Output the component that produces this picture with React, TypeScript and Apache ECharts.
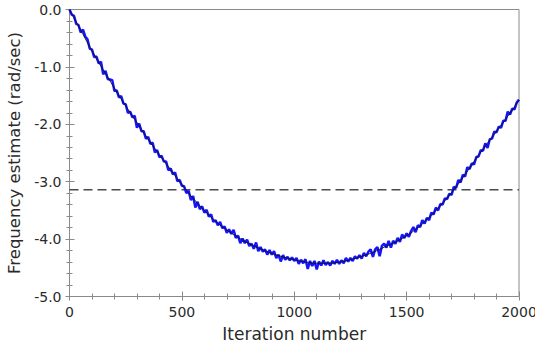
import React, { useEffect, useRef } from "react";
import * as echarts from "echarts";

// Iteration index of the noisy estimate (step 10)
const noisyStep = 10;
const noisyEstimate = [
  0.00, -0.09, -0.11, -0.25, -0.27, -0.40, -0.35, -0.47, -0.52, -0.68,
  -0.70, -0.83, -0.82, -0.94, -0.91, -1.13, -1.07, -1.21, -1.22, -1.23,
  -1.42, -1.41, -1.53, -1.51, -1.64, -1.65, -1.80, -1.78, -1.88, -1.85,
  -2.06, -1.99, -2.12, -2.12, -2.25, -2.22, -2.34, -2.32, -2.49, -2.45,
  -2.57, -2.55, -2.65, -2.65, -2.80, -2.77, -2.87, -2.84, -2.99, -2.97,
  -3.07, -3.08, -3.20, -3.16, -3.32, -3.25, -3.45, -3.35, -3.48, -3.43,
  -3.54, -3.49, -3.61, -3.57, -3.70, -3.67, -3.76, -3.70, -3.81, -3.78,
  -3.89, -3.83, -3.91, -3.84, -3.98, -3.94, -4.07, -3.99, -4.07, -4.01,
  -4.12, -4.08, -4.17, -4.06, -4.21, -4.14, -4.22, -4.18, -4.27, -4.19,
  -4.27, -4.21, -4.33, -4.27, -4.39, -4.28, -4.36, -4.31, -4.37, -4.32,
  -4.38, -4.33, -4.43, -4.36, -4.42, -4.35, -4.52, -4.38, -4.47, -4.38,
  -4.53, -4.39, -4.46, -4.37, -4.45, -4.40, -4.46, -4.38, -4.43, -4.36,
  -4.43, -4.37, -4.42, -4.33, -4.39, -4.33, -4.38, -4.30, -4.34, -4.28,
  -4.34, -4.24, -4.30, -4.22, -4.18, -4.31, -4.18, -4.14, -4.30, -4.12,
  -4.08, -4.15, -4.03, -4.15, -4.03, -4.08, -3.98, -4.05, -3.92, -3.98,
  -3.90, -3.96, -3.86, -3.79, -3.88, -3.76, -3.79, -3.67, -3.73, -3.63,
  -3.67, -3.54, -3.57, -3.45, -3.50, -3.39, -3.40, -3.29, -3.30, -3.21,
  -3.23, -3.09, -3.11, -2.97, -3.01, -2.88, -2.91, -2.75, -2.78, -2.68,
  -2.70, -2.57, -2.56, -2.45, -2.46, -2.33, -2.41, -2.26, -2.25, -2.13,
  -2.14, -2.04, -2.06, -1.94, -1.94, -1.78, -1.83, -1.73, -1.74, -1.62,
  -1.57,
];

// Smooth (true) frequency curve, step 50
const trueStep = 50;
const trueFrequency = [
  0.00, -0.36, -0.72, -1.05, -1.37, -1.68, -1.97, -2.26, -2.53, -2.79,
  -3.05, -3.29, -3.50, -3.69, -3.84, -3.97, -4.08, -4.17, -4.25, -4.31,
  -4.36, -4.40, -4.42, -4.42, -4.40, -4.36, -4.30, -4.23, -4.14, -4.05,
  -3.94, -3.80, -3.62, -3.42, -3.19, -2.93, -2.65, -2.38, -2.12, -1.86,
  -1.58,
];

const referenceLevel = -3.14159; // -pi
const xRange = [0, 2000];
const yRange = [-5, 0];

const FONT = "DejaVu Sans";
const AXIS_COLOR = "#8a8a8a";
const LABEL_COLOR = "#2a2a2a";

export default function App() {
  const ref = useRef<HTMLDivElement>(null);
  useEffect(() => {
    if (!ref.current) return;
    const chart = echarts.init(ref.current, null, { renderer: "svg" });
    const noisyData = noisyEstimate.map((v, i) => [i * noisyStep, v]);
    const trueData = trueFrequency.map((v, i) => [i * trueStep, v]);
    const refData = [
      [xRange[0], referenceLevel],
      [xRange[1], referenceLevel],
    ];
    const tickOut = { show: true, inside: false, length: 4, lineStyle: { color: AXIS_COLOR } };
    const tickIn = { show: true, inside: true, length: 5, lineStyle: { color: AXIS_COLOR } };
    const minor = { show: true, splitNumber: 5, length: 3, lineStyle: { color: AXIS_COLOR } };
    chart.setOption({
      animation: false,
      backgroundColor: "#ffffff",
      grid: {
        left: 69.5,
        right: 16,
        top: 9.5,
        bottom: 48.5,
        show: true,
        borderColor: AXIS_COLOR,
        borderWidth: 1,
        backgroundColor: "transparent",
        containLabel: false,
        outerBoundsMode: "none",
      },
      xAxis: [
        {
          type: "value",
          min: xRange[0],
          max: xRange[1],
          interval: 500,
          position: "bottom",
          axisLine: { show: true, onZero: false, lineStyle: { color: AXIS_COLOR } },
          axisTick: tickOut,
          minorTick: minor,
          splitLine: { show: false },
          axisLabel: {
            color: LABEL_COLOR,
            fontSize: 14,
            fontFamily: FONT,
            margin: 8,
            formatter: (v: number) => String(v),
          },
          name: "Iteration number",
          nameLocation: "middle",
          nameGap: 29,
          nameTextStyle: { color: LABEL_COLOR, fontSize: 17, fontFamily: FONT },
        },
        {
          type: "value",
          min: xRange[0],
          max: xRange[1],
          interval: 500,
          position: "bottom",
          axisLine: { show: false, onZero: false },
          axisTick: tickIn,
          minorTick: minor,
          splitLine: { show: false },
          axisLabel: { show: false },
        },
      ],
      yAxis: [
        {
          type: "value",
          min: yRange[0],
          max: yRange[1],
          interval: 1,
          position: "left",
          axisLine: { show: true, onZero: false, lineStyle: { color: AXIS_COLOR } },
          axisTick: tickOut,
          minorTick: minor,
          splitLine: { show: false },
          axisLabel: {
            color: LABEL_COLOR,
            fontSize: 14,
            fontFamily: FONT,
            margin: 8,
            formatter: (v: number) => (v === 0 ? "0.0" : v.toFixed(1)),
          },
          name: "Frequency estimate (rad/sec)",
          nameLocation: "middle",
          nameGap: 42,
          nameTextStyle: { color: LABEL_COLOR, fontSize: 16.5, fontFamily: FONT },
        },
        {
          type: "value",
          min: yRange[0],
          max: yRange[1],
          interval: 1,
          position: "left",
          axisLine: { show: false, onZero: false },
          axisTick: tickIn,
          minorTick: minor,
          splitLine: { show: false },
          axisLabel: { show: false },
        },
      ],
      series: [
        {
          type: "line",
          name: "reference",
          data: refData,
          xAxisIndex: 0,
          yAxisIndex: 0,
          showSymbol: false,
          symbol: "none",
          lineStyle: { color: "#4a4a4a", width: 1.5, type: [9, 5] },
          z: 1,
        },
        {
          type: "line",
          name: "estimate",
          data: noisyData,
          xAxisIndex: 0,
          yAxisIndex: 0,
          showSymbol: false,
          symbol: "none",
          lineStyle: { color: "#1414ff", width: 2.5 },
          z: 2,
        },
        {
          type: "line",
          name: "true",
          data: trueData,
          xAxisIndex: 0,
          yAxisIndex: 0,
          smooth: true,
          showSymbol: false,
          symbol: "none",
          lineStyle: { color: "#111111", width: 0.9 },
          z: 3,
        },
      ],
    });
    return () => chart.dispose();
  }, []);
  return (
    <div
      ref={ref}
      style={{ position: "fixed", left: 0, top: 0, width: 535, height: 345, background: "#fff" }}
    />
  );
}
